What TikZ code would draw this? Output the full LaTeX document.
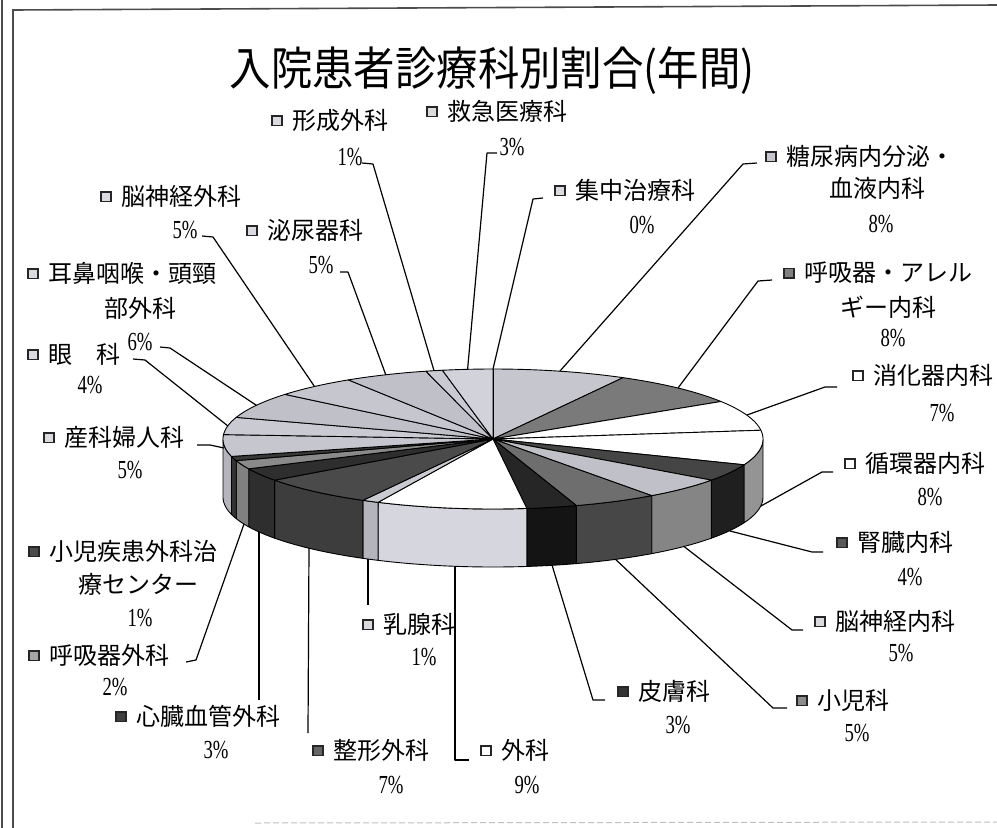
\documentclass[tikz,border=0pt]{standalone}
\usepackage{fontspec}
\usepackage{graphicx}
\newfontfamily\cjk{Noto Sans CJK JP}
\newfontfamily\pctf{Liberation Serif}
\def\pcx{493}\def\pcy{439}\def\prx{270}\def\pry{70}\def\pdep{58}
\newcommand{\mk}[1]{\raisebox{4.5pt}{\setlength{\fboxsep}{0pt}\setlength{\fboxrule}{1.8pt}\fcolorbox{black!85}{#1}{\rule{0pt}{8pt}\rule{8pt}{0pt}}}\hspace{10pt}}
\newcommand{\pc}[1]{\scalebox{0.72}[1]{#1\%}}
\newcommand{\topslice}[3]{\filldraw[pieedge,fill=#3] (\pcx,\pcy) -- plot[domain=#1:#2,samples=36] ({\pcx+\prx*cos(\x)},{\pcy+\pry*sin(\x)}) -- cycle;}
\newcommand{\sideslice}[3]{\filldraw[pieedge,fill=#3] plot[domain=#1:#2,samples=36] ({\pcx+\prx*cos(\x)},{\pcy+\pry*sin(\x)}) -- plot[domain=#2:#1,samples=36] ({\pcx+\prx*cos(\x)},{\pcy+\pdep+\pry*sin(\x)}) -- cycle;}
\definecolor{lg1}{HTML}{C6C6CE}
\definecolor{lg2}{HTML}{C0C0C8}
\definecolor{lg3}{HTML}{CACAD2}
\definecolor{lg4}{HTML}{D2D2DA}
\definecolor{sdlt}{HTML}{D6D6DE}
\definecolor{sdlg}{HTML}{B4B4BC}
\definecolor{mkl}{HTML}{DADAE0}
\begin{document}
\begin{tikzpicture}[x=1pt,y=-1pt,
  pieedge/.style={draw=black,line width=0.9pt,line join=round},
  nm/.style={anchor=west,inner sep=0pt,font=\cjk\fontsize{24}{28}\selectfont},
  nl/.style={inner sep=0pt,font=\cjk\fontsize{24}{28}\selectfont},
  pct/.style={inner sep=0pt,font=\pctf\fontsize{26}{30}\selectfont},
  ld/.style={draw=black,line width=1.2pt,line join=round},
  frame/.style={draw=black!70,line width=1.6pt}]
\useasboundingbox (0,0) rectangle (997,828);
% frame
\coordinate (f1) at (2,0); \coordinate (f2) at (2,828);
\coordinate (f3) at (13,828); \coordinate (f4) at (13,10); \coordinate (f5) at (997,5);
\coordinate (f6) at (255,823); \coordinate (f7) at (997,822);
\draw[frame] (f1) -- (f2);
\draw[frame] (f3) -- (f4) -- (f5);
\draw[black!25,line width=1pt,dash pattern=on 6pt off 3pt] (f6) -- (f7);
% title
\node[font=\cjk\fontsize{46}{50}\selectfont,inner sep=0pt] (title) at (492,71) {\scalebox{0.9}[1]{入院患者診療科別割合(年間)}};
% sides (front half)
\sideslice{0}{21.6}{black!42}
\sideslice{21.6}{36}{black!88}
\sideslice{36}{54}{black!48}
\sideslice{54}{72}{black!72}
\sideslice{72}{82.8}{black!92}
\sideslice{82.8}{115.2}{sdlt}
\sideslice{115.2}{118.8}{sdlg}
\sideslice{118.8}{144}{black!76}
\sideslice{144}{154.8}{black!82}
\sideslice{154.8}{162}{black!50}
\sideslice{162}{165.6}{black!80}
\sideslice{165.6}{180}{sdlg}
% tops
\topslice{-90}{-61.2}{lg1}
\topslice{-61.2}{-32.4}{black!52}
\topslice{-32.4}{-7.2}{white}
\topslice{-7.2}{21.6}{white}
\topslice{21.6}{36}{black!73}
\topslice{36}{54}{lg2}
\topslice{54}{72}{black!57}
\topslice{72}{82.8}{black!85}
\topslice{82.8}{115.2}{white}
\topslice{115.2}{118.8}{lg3}
\topslice{118.8}{144}{black!71}
\topslice{144}{154.8}{black!82}
\topslice{154.8}{162}{black!46}
\topslice{162}{165.6}{black!78}
\topslice{165.6}{183.6}{lg1}
\topslice{183.6}{198}{lg3}
\topslice{198}{219.6}{lg2}
\topslice{219.6}{237.6}{lg1}
\topslice{237.6}{255.6}{lg2}
\topslice{255.6}{259.2}{lg3}
\topslice{259.2}{270}{lg4}
\coordinate (C) at (\pcx,\pcy);
\coordinate (Ctop) at (493,369);
\draw[pieedge] (C) -- (Ctop);
% labels
\node[nm] (tA) at (765,156) {\mk{lg1}糖尿病内分泌・};
\node[nl] (tA2) at (877,188) {血液内科};
\node[pct] (pA0) at (881,224) {\pc{8}};
\node[nm] (tB) at (783,273) {\mk{black!50}呼吸器・アレル};
\node[nl] (tB2) at (888,307) {ギー内科};
\node[pct] (pB0) at (893,338) {\pc{8}};
\node[nm] (tC) at (852,375) {\mk{white}消化器内科};
\node[pct] (pC0) at (942,413) {\pc{7}};
\node[nm] (tD) at (844,463) {\mk{white}循環器内科};
\node[pct] (pD0) at (930,497) {\pc{8}};
\node[nm] (tE) at (836,542) {\mk{black!65}腎臓内科};
\node[pct] (pE0) at (910,577) {\pc{4}};
\node[nm] (tF) at (814,621) {\mk{mkl}脳神経内科};
\node[pct] (pF0) at (901,653) {\pc{5}};
\node[nm] (tG) at (796,700) {\mk{black!45}小児科};
\node[pct] (pG0) at (857,733) {\pc{5}};
\node[nm] (tH) at (617,691) {\mk{black!80}皮膚科};
\node[pct] (pH0) at (678,725) {\pc{3}};
\node[nm] (tI) at (480,750) {\mk{white}外科};
\node[pct] (pI0) at (527,785) {\pc{9}};
\node[nm] (tJ) at (362,624) {\mk{mkl}乳腺科};
\node[pct] (pJ0) at (424,657) {\pc{1}};
\node[nm] (tK) at (312,750) {\mk{black!60}整形外科};
\node[pct] (pK0) at (391,785) {\pc{7}};
\node[nm] (tL) at (115,716) {\mk{black!75}心臓血管外科};
\node[pct] (pL0) at (216,750) {\pc{3}};
\node[nm] (tM) at (28,655) {\mk{black!35}呼吸器外科};
\node[pct] (pM0) at (115,687) {\pc{2}};
\node[nm] (tN) at (28,551) {\mk{black!70}小児疾患外科治};
\node[nl] (tN2) at (138,584) {療センター};
\node[pct] (pN0) at (140,618) {\pc{1}};
\node[nm] (tO) at (43,437) {\mk{mkl}産科婦人科};
\node[pct] (pO0) at (130,470) {\pc{5}};
\node[nm] (tP) at (27,354) {\mk{mkl}眼　科};
\node[pct] (pP0) at (90,385) {\pc{4}};
\node[nm] (tQ) at (27,273) {\mk{mkl}耳鼻咽喉・頭頸};
\node[nl] (tQ2) at (140,308) {部外科};
\node[pct] (pQ0) at (140,342) {\pc{6}};
\node[nm] (tR) at (100,196) {\mk{mkl}脳神経外科};
\node[pct] (pR0) at (185,230) {\pc{5}};
\node[nm] (tS) at (246,230) {\mk{mkl}泌尿器科};
\node[pct] (pS0) at (321,265) {\pc{5}};
\node[nm] (tT) at (271,120) {\mk{mkl}形成外科};
\node[pct] (pT0) at (350,157) {\pc{1}};
\node[nm] (tU) at (426,111) {\mk{mkl}救急医療科};
\node[pct] (pU0) at (512,147) {\pc{3}};
\node[nm] (tV) at (554,190) {\mk{mkl}集中治療科};
\node[pct] (pV0) at (642,225) {\pc{0}};
% leader coordinates
\coordinate (lA1) at (757,163); \coordinate (lA2) at (743,164); \coordinate (pA) at (560,371);
\coordinate (lB1) at (772,280); \coordinate (lB2) at (758,281); \coordinate (pB) at (678,388);
\coordinate (lC1) at (837,387); \coordinate (lC2) at (825,387); \coordinate (pC) at (747,415);
\coordinate (lD1) at (833,472); \coordinate (lD2) at (822,472); \coordinate (pD) at (761,506);
\coordinate (lE1) at (823,552); \coordinate (lE2) at (812,552); \coordinate (pE) at (730,531);
\coordinate (lF1) at (803,630); \coordinate (lF2) at (792,630); \coordinate (pF) at (684,546.5);
\coordinate (lG1) at (787,708); \coordinate (lG2) at (773,708); \coordinate (pG) at (615.6,559.4);
\coordinate (lH1) at (605,700); \coordinate (lH2) at (593,700); \coordinate (pH) at (552,565);
\coordinate (lI1) at (469,760); \coordinate (lI2) at (455,760); \coordinate (pI) at (455,566);
\coordinate (lJ1) at (368,605); \coordinate (pJ) at (368,559);
\coordinate (lK1) at (308,733); \coordinate (pK) at (309,548);
\coordinate (lL1) at (259,700); \coordinate (pL) at (259,532);
\coordinate (lM1) at (186,662); \coordinate (lM2) at (196,660); \coordinate (pM) at (244,524);
\coordinate (lO1) at (197,445); \coordinate (lO2) at (210,445); \coordinate (pO) at (224,448);
\coordinate (lP1) at (133,359); \coordinate (lP2) at (145,360); \coordinate (pP) at (227.8,425.9);
\coordinate (lQ1) at (160,347); \coordinate (lQ2) at (170,348); \coordinate (pQ) at (256.4,405.3);
\coordinate (lR1) at (202,236); \coordinate (lR2) at (213,237); \coordinate (pR) at (314.5,386.5);
\coordinate (lS1) at (340,272); \coordinate (lS2) at (348,272); \coordinate (pS) at (385.8,374.8);
\coordinate (lT1) at (362,163); \coordinate (lT2) at (373,164); \coordinate (pT) at (434,370.7);
\coordinate (lU1) at (497,153); \coordinate (lU2) at (487,153); \coordinate (pU) at (467.6,369.3);
\coordinate (lV1) at (543,198); \coordinate (lV2) at (533,199); \coordinate (pV) at (493,369);
% leaders
\draw[ld] (lA1) -- (lA2) -- (pA);
\draw[ld] (lB1) -- (lB2) -- (pB);
\draw[ld] (lC1) -- (lC2) -- (pC);
\draw[ld] (lD1) -- (lD2) -- (pD);
\draw[ld] (lE1) -- (lE2) -- (pE);
\draw[ld] (lF1) -- (lF2) -- (pF);
\draw[ld] (lG1) -- (lG2) -- (pG);
\draw[ld] (lH1) -- (lH2) -- (pH);
\draw[ld] (lI1) -- (lI2) -- (pI);
\draw[ld] (lJ1) -- (pJ);
\draw[ld] (lK1) -- (pK);
\draw[ld] (lL1) -- (pL);
\draw[ld] (lM1) -- (lM2) -- (pM);
\draw[ld] (lO1) -- (lO2) -- (pO);
\draw[ld] (lP1) -- (lP2) -- (pP);
\draw[ld] (lQ1) -- (lQ2) -- (pQ);
\draw[ld] (lR1) -- (lR2) -- (pR);
\draw[ld] (lS1) -- (lS2) -- (pS);
\draw[ld] (lT1) -- (lT2) -- (pT);
\draw[ld] (lU1) -- (lU2) -- (pU);
\draw[ld] (lV1) -- (lV2) -- (pV);
\end{tikzpicture}
\end{document}
